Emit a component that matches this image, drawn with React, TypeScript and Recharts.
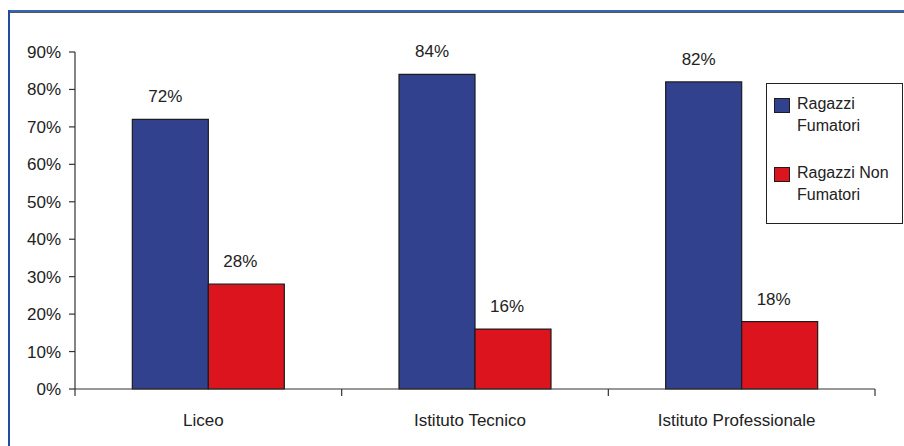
import React from 'react';
import { BarChart, Bar, XAxis, YAxis, Legend, LabelList } from 'recharts';

// Tipo di scuola
const schools = ['Liceo', 'Istituto Tecnico', 'Istituto Professionale'];
// Percentuali per tipo di scuola
const smokers = [72, 84, 82];
const nonSmokers = [28, 16, 18];
// Etichette asse Y
const yTicks = [0, 10, 20, 30, 40, 50, 60, 70, 80, 90];

const seriesNames = { smokers: 'Ragazzi Fumatori', nonSmokers: 'Ragazzi Non Fumatori' };
const colors = { smokers: '#31418e', nonSmokers: '#dc141d' };

const data = schools.map((name, i) => ({
  name,
  smokers: smokers[i],
  nonSmokers: nonSmokers[i],
}));

const FONT = '"Liberation Sans", Arial, sans-serif';
const TEXT = '#222';
const AXIS = '#333';

const X_TICK_SIZE = 6;
const X_TICK_MARGIN = 19;
const EDGE_TICK = 7;

const legendLines: Record<string, string[]> = {
  'Ragazzi Fumatori': ['Ragazzi', 'Fumatori'],
  'Ragazzi Non Fumatori': ['Ragazzi Non', 'Fumatori'],
};

const LegendBox = (props: any) => {
  const items = props.payload || [];
  return (
    <div
      style={{
        boxSizing: 'border-box',
        width: 137,
        height: 141,
        border: '1px solid #222',
        background: '#fff',
        padding: '9px 0 0 7px',
        fontFamily: FONT,
        fontSize: 16,
        color: TEXT,
      }}
    >
      {items.map((it: any, i: number) => (
        <div key={it.value} style={{ display: 'flex', alignItems: 'flex-start', marginTop: i === 0 ? 0 : 25 }}>
          <div
            style={{
              boxSizing: 'border-box',
              width: 16,
              height: 15,
              marginTop: 5,
              marginRight: 7,
              background: it.color,
              border: '1px solid #1c1c1c',
              flexShrink: 0,
            }}
          />
          <div style={{ lineHeight: '22px' }}>
            {(legendLines[it.value] || [it.value]).map((l) => (
              <div key={l}>{l}</div>
            ))}
          </div>
        </div>
      ))}
    </div>
  );
};

// Etichetta di categoria con le tacche sui bordi della banda
const CategoryTick = (props: any) => {
  const { x, y, payload, index, visibleTicksCount } = props;
  const half = typeof payload?.offset === 'number' ? payload.offset : 0;
  const axisY = y - X_TICK_SIZE - X_TICK_MARGIN;
  const isLast = index === visibleTicksCount - 1;
  return (
    <g>
      {half > 0 && (
        <line x1={x - half} x2={x - half} y1={axisY} y2={axisY + EDGE_TICK} stroke={AXIS} strokeWidth={1.2} />
      )}
      {half > 0 && isLast && (
        <line x1={x + half} x2={x + half} y1={axisY} y2={axisY + EDGE_TICK} stroke={AXIS} strokeWidth={1.2} />
      )}
      <text x={x - 5} y={y} dy="0.71em" textAnchor="middle" fill={TEXT} fontSize={17} fontFamily={FONT}>
        {payload.value}
      </text>
    </g>
  );
};

const pct = (v: number) => `${v}%`;

export default function App() {
  return (
    <div style={{ position: 'absolute', left: 0, top: 0, width: 904, height: 446, background: '#fff', overflow: 'hidden' }}>
      {/* cornice */}
      <div style={{ position: 'absolute', left: 8, top: 10, width: 896, height: 2, background: '#3366bb' }} />
      <div style={{ position: 'absolute', left: 8, top: 12, width: 896, height: 1, background: '#555' }} />
      <div style={{ position: 'absolute', left: 8, top: 10, width: 2, height: 436, background: '#1f4ca0' }} />
      <div style={{ position: 'absolute', left: 0, top: 0 }}>
        <BarChart
          width={904}
          height={446}
          data={data}
          margin={{ top: 52, right: 29, bottom: 0, left: 0 }}
          barCategoryGap="21.5%"
          barGap={0}
          style={{ fontFamily: FONT }}
        >
          <XAxis
            dataKey="name"
            tickLine={false}
            tickSize={X_TICK_SIZE}
            tickMargin={X_TICK_MARGIN}
            height={57}
            axisLine={{ stroke: AXIS, strokeWidth: 1.2 }}
            tick={<CategoryTick />}
            interval={0}
          />
          <YAxis
            width={75}
            domain={[0, 90]}
            ticks={yTicks}
            tickFormatter={pct}
            tickSize={6}
            tickMargin={8}
            axisLine={{ stroke: AXIS, strokeWidth: 1.2 }}
            tickLine={{ stroke: AXIS, strokeWidth: 1.2 }}
            tick={{ fill: TEXT, fontSize: 17, fontFamily: FONT }}
            interval={0}
          />
          <Legend
            layout="horizontal"
            verticalAlign="middle"
            align="center"
            content={<LegendBox />}
            wrapperStyle={{ left: 766, top: 83, width: 137, height: 141 }}
          />
          <Bar
            dataKey="smokers"
            name={seriesNames.smokers}
            fill={colors.smokers}
            stroke="#1c1c1c"
            strokeWidth={1.2}
            isAnimationActive={false}
          >
            <LabelList dataKey="smokers" position="top" offset={17} dx={-5} formatter={pct} fill={TEXT} fontSize={17} fontFamily={FONT} />
          </Bar>
          <Bar
            dataKey="nonSmokers"
            name={seriesNames.nonSmokers}
            fill={colors.nonSmokers}
            stroke="#1c1c1c"
            strokeWidth={1.2}
            isAnimationActive={false}
          >
            <LabelList dataKey="nonSmokers" position="top" offset={17} dx={-6} formatter={pct} fill={TEXT} fontSize={17} fontFamily={FONT} />
          </Bar>
        </BarChart>
      </div>
    </div>
  );
}
